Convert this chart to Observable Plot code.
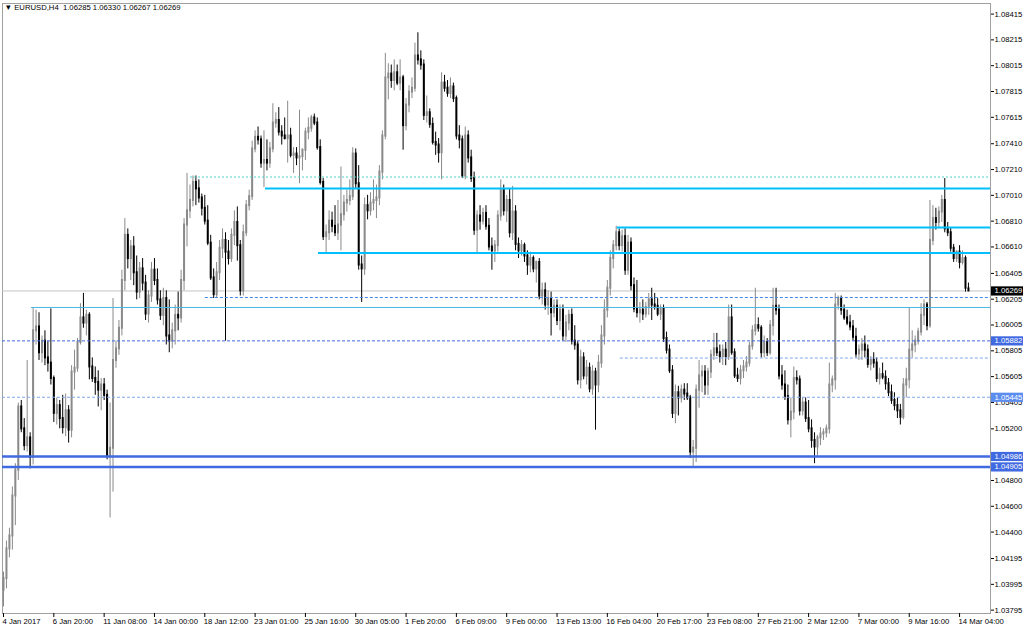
<!DOCTYPE html>
<html><head><meta charset="utf-8">
<script src="https://cdn.jsdelivr.net/npm/d3@7"></script>
<script src="https://cdn.jsdelivr.net/npm/@observablehq/plot@0.6"></script>
<style>html,body{margin:0;padding:0;background:#fff;}svg{display:block}</style>
</head><body><div id="chart"></div>
<script>
const symbolName = "EURUSD,H4";
const titleValues = [1.06285, 1.06330, 1.06267, 1.06269];

const openPrices = [
1.0395,1.0404,1.0427,1.0437,1.0468,1.0488,1.0537,1.0520,1.0507,1.0513,
1.0498,1.0596,1.0599,1.0579,1.0588,1.0575,1.0571,1.0559,1.0532,1.0538,
1.0528,1.0521,1.0534,1.0519,1.0564,1.0567,1.0587,1.0606,1.0602,1.0608,
1.0568,1.0559,1.0556,1.0550,1.0554,1.0546,1.0499,1.0505,1.0573,1.0582,
1.0598,1.0635,1.0670,1.0652,1.0661,1.0641,1.0626,1.0644,1.0633,1.0609,
1.0623,1.0643,1.0635,1.0620,1.0608,1.0621,1.0592,1.0588,1.0596,1.0608,
1.0606,1.0635,1.0678,1.0689,1.0697,1.0711,1.0706,1.0699,1.0691,1.0681,
1.0664,1.0637,1.0624,1.0641,1.0660,1.0666,1.0657,1.0652,1.0670,1.0680,
1.0662,1.0627,1.0672,1.0693,1.0700,1.0737,1.0746,1.0744,1.0726,1.0728,
1.0726,1.0737,1.0757,1.0759,1.0750,1.0747,1.0745,1.0747,1.0732,1.0733,
1.0730,1.0731,1.0736,1.0750,1.0753,1.0761,1.0757,1.0738,1.0711,1.0669,
1.0672,1.0681,1.0677,1.0672,1.0678,1.0686,1.0695,1.0697,1.0700,1.0733,
1.0710,1.0647,1.0644,1.0693,1.0689,1.0695,1.0697,1.0699,1.0719,1.0747,
1.0792,1.0795,1.0790,1.0796,1.0788,1.0792,1.0755,1.0771,1.0781,1.0784,
1.0809,1.0806,1.0802,1.0763,1.0765,1.0756,1.0742,1.0740,1.0734,1.0788,
1.0784,1.0780,1.0785,1.0776,1.0747,1.0744,1.0716,1.0747,1.0730,1.0714,
1.0674,1.0685,1.0681,1.0687,1.0677,1.0661,1.0658,1.0662,1.0685,1.0705,
1.0689,1.0697,1.0672,1.0688,1.0663,1.0658,1.0662,1.0654,1.0647,1.0652,
1.0644,1.0649,1.0623,1.0627,1.0616,1.0621,1.0610,1.0615,1.0604,1.0612,
1.0592,1.0602,1.0608,1.0588,1.0585,1.0558,1.0575,1.0561,1.0567,1.0551,
1.0564,1.0554,1.0571,1.0592,1.0612,1.0629,1.0652,1.0662,1.0672,1.0662,
1.0669,1.0643,1.0664,1.0631,1.0613,1.0610,1.0612,1.0609,1.0614,1.0620,
1.0616,1.0615,1.0609,1.0613,1.0590,1.0581,1.0565,1.0532,1.0548,1.0544,
1.0550,1.0547,1.0544,1.0502,1.0505,1.0550,1.0561,1.0564,1.0554,1.0564,
1.0577,1.0582,1.0579,1.0576,1.0581,1.0576,1.0606,1.0579,1.0561,1.0559,
1.0565,1.0568,1.0571,1.0584,1.0596,1.0600,1.0598,1.0579,1.0587,1.0579,
1.0600,1.0615,1.0612,1.0561,1.0554,1.0545,1.0527,1.0533,1.0559,1.0558,
1.0534,1.0540,1.0528,1.0520,1.0511,1.0506,1.0513,1.0516,1.0517,1.0520,
1.0554,1.0558,1.0616,1.0621,1.0612,1.0606,1.0602,1.0599,1.0591,1.0578,
1.0581,1.0585,1.0581,1.0570,1.0573,1.0571,1.0559,1.0562,1.0560,1.0555,
1.0548,1.0542,1.0538,1.0534,1.0529,1.0554,1.0558,1.0581,1.0585,1.0588,
1.0595,1.0608,1.0616,1.0600,1.0666,1.0683,1.0680,1.0688,1.0697,1.0675,
1.0672,1.0660,1.0652,1.0657,1.0649,1.0652,1.06285];

const highPrices = [
1.0409,1.0433,1.0443,1.0475,1.0493,1.0540,1.0542,1.0528,1.0573,1.0517,
1.0614,1.0612,1.0610,1.0592,1.0596,1.0588,1.0613,1.0561,1.0544,1.0542,
1.0546,1.0547,1.0538,1.0569,1.0581,1.0590,1.0617,1.0625,1.0612,1.0610,
1.0575,1.0568,1.0565,1.0559,1.0559,1.0550,1.0540,1.0621,1.0588,1.0604,
1.0643,1.0683,1.0675,1.0666,1.0669,1.0654,1.0649,1.0652,1.0639,1.0627,
1.0649,1.0652,1.0644,1.0627,1.0629,1.0627,1.0620,1.0602,1.0616,1.0626,
1.0643,1.0683,1.0718,1.0709,1.0716,1.0716,1.0713,1.0702,1.0701,1.0693,
1.0670,1.0644,1.0649,1.0666,1.0675,1.0672,1.0666,1.0675,1.0689,1.0692,
1.0666,1.0678,1.0697,1.0705,1.0743,1.0751,1.0754,1.0747,1.0751,1.0744,
1.0742,1.0772,1.0765,1.0769,1.0755,1.0761,1.0774,1.0753,1.0738,1.0738,
1.0767,1.0737,1.0753,1.0761,1.0763,1.0764,1.0761,1.0744,1.0714,1.0678,
1.0689,1.0688,1.0693,1.0697,1.0723,1.0701,1.0705,1.0713,1.0738,1.0737,
1.0724,1.0654,1.0699,1.0701,1.0703,1.0713,1.0709,1.0724,1.0751,1.0811,
1.0803,1.0802,1.0806,1.0802,1.0806,1.0794,1.0776,1.0786,1.0792,1.0819,
1.0827,1.0813,1.0806,1.0778,1.0768,1.0761,1.0750,1.0745,1.0796,1.0794,
1.0790,1.0792,1.0788,1.0778,1.0755,1.0747,1.0754,1.0751,1.0736,1.0719,
1.0689,1.0693,1.0691,1.0693,1.0683,1.0668,1.0666,1.0689,1.0713,1.0709,
1.0701,1.0706,1.0708,1.0693,1.0668,1.0666,1.0664,1.0658,1.0657,1.0654,
1.0650,1.0652,1.0633,1.0633,1.0627,1.0626,1.0620,1.0620,1.0616,1.0616,
1.0608,1.0612,1.0613,1.0600,1.0588,1.0581,1.0579,1.0573,1.0571,1.0569,
1.0567,1.0577,1.0600,1.0620,1.0635,1.0658,1.0666,1.0677,1.0675,1.0674,
1.0675,1.0670,1.0668,1.0637,1.0635,1.0618,1.0620,1.0618,1.0625,1.0629,
1.0625,1.0621,1.0616,1.0616,1.0595,1.0585,1.0569,1.0554,1.0553,1.0554,
1.0555,1.0555,1.0546,1.0511,1.0554,1.0573,1.0569,1.0569,1.0567,1.0581,
1.0594,1.0594,1.0585,1.0585,1.0587,1.0616,1.0616,1.0582,1.0567,1.0569,
1.0573,1.0576,1.0587,1.0600,1.0629,1.0606,1.0600,1.0592,1.0590,1.0604,
1.0629,1.0629,1.0616,1.0569,1.0565,1.0554,1.0544,1.0568,1.0565,1.0561,
1.0544,1.0544,1.0542,1.0527,1.0517,1.0515,1.0521,1.0520,1.0523,1.0571,
1.0561,1.0625,1.0623,1.0623,1.0616,1.0612,1.0608,1.0604,1.0598,1.0585,
1.0590,1.0592,1.0585,1.0576,1.0579,1.0575,1.0567,1.0571,1.0565,1.0559,
1.0554,1.0548,1.0544,1.0539,1.0559,1.0567,1.0614,1.0596,1.0592,1.0598,
1.0617,1.0620,1.0618,1.0697,1.0693,1.0691,1.0692,1.0701,1.0714,1.0680,
1.0676,1.0663,1.0658,1.0662,1.0658,1.0654,1.06330];

const lowPrices = [
1.0382,1.0396,1.0420,1.0426,1.0445,1.0480,1.0517,1.0503,1.0502,1.0489,
1.0492,1.0585,1.0573,1.0571,1.0569,1.0564,1.0554,1.0525,1.0523,1.0520,
1.0516,1.0514,1.0509,1.0513,1.0550,1.0564,1.0585,1.0598,1.0592,1.0558,
1.0556,1.0546,1.0537,1.0534,1.0542,1.0496,1.0451,1.0471,1.0567,1.0577,
1.0592,1.0627,1.0644,1.0635,1.0631,1.0620,1.0621,1.0627,1.0604,1.0602,
1.0618,1.0631,1.0616,1.0604,1.0600,1.0585,1.0579,1.0582,1.0585,1.0596,
1.0602,1.0627,1.0661,1.0683,1.0692,1.0693,1.0695,1.0685,1.0678,1.0662,
1.0635,1.0621,1.0621,1.0635,1.0652,1.0588,1.0647,1.0649,1.0662,1.0650,
1.0623,1.0623,1.0669,1.0689,1.0697,1.0734,1.0740,1.0722,1.0707,1.0720,
1.0722,1.0734,1.0753,1.0747,1.0740,1.0744,1.0726,1.0730,1.0718,1.0724,
1.0710,1.0720,1.0728,1.0744,1.0750,1.0755,1.0736,1.0709,1.0666,1.0656,
1.0666,1.0672,1.0669,1.0666,1.0658,1.0681,1.0688,1.0693,1.0697,1.0706,
1.0643,1.0618,1.0639,1.0682,1.0685,1.0689,1.0683,1.0693,1.0713,1.0744,
1.0775,1.0784,1.0782,1.0786,1.0782,1.0736,1.0751,1.0765,1.0776,1.0781,
1.0802,1.0798,1.0759,1.0757,1.0753,1.0740,1.0732,1.0726,1.0713,1.0781,
1.0777,1.0776,1.0773,1.0744,1.0737,1.0714,1.0713,1.0726,1.0711,1.0670,
1.0656,1.0674,1.0678,1.0674,1.0658,1.0643,1.0649,1.0657,1.0681,1.0685,
1.0680,1.0668,1.0666,1.0658,1.0652,1.0654,1.0649,1.0639,1.0641,1.0641,
1.0633,1.0620,1.0616,1.0612,1.0608,1.0592,1.0606,1.0600,1.0596,1.0588,
1.0587,1.0596,1.0585,1.0581,1.0554,1.0551,1.0558,1.0554,1.0548,1.0546,
1.0519,1.0548,1.0567,1.0585,1.0606,1.0623,1.0644,1.0658,1.0658,1.0657,
1.0639,1.0639,1.0627,1.0610,1.0606,1.0602,1.0604,1.0606,1.0608,1.0604,
1.0612,1.0607,1.0604,1.0587,1.0578,1.0563,1.0528,1.0524,1.0530,1.0540,
1.0542,1.0542,1.0497,1.0491,1.0494,1.0536,1.0548,1.0546,1.0546,1.0559,
1.0573,1.0576,1.0571,1.0569,1.0569,1.0573,1.0577,1.0559,1.0556,1.0554,
1.0559,1.0564,1.0568,1.0581,1.0592,1.0595,1.0575,1.0575,1.0576,1.0577,
1.0592,1.0608,1.0558,1.0550,1.0542,1.0523,1.0513,1.0527,1.0554,1.0530,
1.0530,1.0525,1.0517,1.0505,1.0493,1.0499,1.0507,1.0511,1.0513,1.0516,
1.0548,1.0550,1.0612,1.0608,1.0604,1.0600,1.0596,1.0588,1.0575,1.0573,
1.0573,1.0575,1.0567,1.0565,1.0567,1.0556,1.0554,1.0558,1.0550,1.0545,
1.0539,1.0534,1.0528,1.0523,1.0527,1.0544,1.0551,1.0575,1.0579,1.0585,
1.0592,1.0600,1.0596,1.0598,1.0662,1.0674,1.0675,1.0680,1.0672,1.0669,
1.0657,1.0649,1.0649,1.0644,1.0647,1.0626,1.06267];

const closePrices = [
1.0404,1.0427,1.0437,1.0468,1.0488,1.0537,1.0520,1.0507,1.0513,1.0498,
1.0596,1.0599,1.0579,1.0588,1.0575,1.0571,1.0559,1.0532,1.0538,1.0528,
1.0521,1.0534,1.0519,1.0564,1.0567,1.0587,1.0606,1.0602,1.0608,1.0568,
1.0559,1.0556,1.0550,1.0554,1.0546,1.0499,1.0505,1.0573,1.0582,1.0598,
1.0635,1.0670,1.0652,1.0661,1.0641,1.0626,1.0644,1.0633,1.0609,1.0623,
1.0643,1.0635,1.0620,1.0608,1.0621,1.0592,1.0588,1.0596,1.0608,1.0606,
1.0635,1.0678,1.0689,1.0697,1.0711,1.0706,1.0699,1.0691,1.0681,1.0664,
1.0637,1.0624,1.0641,1.0660,1.0666,1.0657,1.0652,1.0670,1.0680,1.0662,
1.0627,1.0672,1.0693,1.0700,1.0737,1.0746,1.0744,1.0726,1.0728,1.0726,
1.0737,1.0757,1.0759,1.0750,1.0747,1.0745,1.0747,1.0732,1.0733,1.0730,
1.0731,1.0736,1.0750,1.0753,1.0761,1.0757,1.0738,1.0711,1.0669,1.0672,
1.0681,1.0677,1.0672,1.0678,1.0686,1.0695,1.0697,1.0700,1.0733,1.0710,
1.0647,1.0644,1.0693,1.0689,1.0695,1.0697,1.0699,1.0719,1.0747,1.0792,
1.0795,1.0790,1.0796,1.0788,1.0792,1.0755,1.0771,1.0781,1.0784,1.0809,
1.0806,1.0802,1.0763,1.0765,1.0756,1.0742,1.0740,1.0734,1.0788,1.0784,
1.0780,1.0785,1.0776,1.0747,1.0744,1.0716,1.0747,1.0730,1.0714,1.0674,
1.0685,1.0681,1.0687,1.0677,1.0661,1.0658,1.0662,1.0685,1.0705,1.0689,
1.0697,1.0672,1.0688,1.0663,1.0658,1.0662,1.0654,1.0647,1.0652,1.0644,
1.0649,1.0623,1.0627,1.0616,1.0621,1.0610,1.0615,1.0604,1.0612,1.0592,
1.0602,1.0608,1.0588,1.0585,1.0558,1.0575,1.0561,1.0567,1.0551,1.0564,
1.0554,1.0571,1.0592,1.0612,1.0629,1.0652,1.0662,1.0672,1.0662,1.0669,
1.0643,1.0664,1.0631,1.0613,1.0610,1.0612,1.0609,1.0614,1.0620,1.0616,
1.0615,1.0609,1.0613,1.0590,1.0581,1.0565,1.0532,1.0548,1.0544,1.0550,
1.0547,1.0544,1.0502,1.0505,1.0550,1.0561,1.0564,1.0554,1.0564,1.0577,
1.0582,1.0579,1.0576,1.0581,1.0576,1.0606,1.0579,1.0561,1.0559,1.0565,
1.0568,1.0571,1.0584,1.0596,1.0600,1.0598,1.0579,1.0587,1.0579,1.0600,
1.0615,1.0612,1.0561,1.0554,1.0545,1.0527,1.0533,1.0559,1.0558,1.0534,
1.0540,1.0528,1.0520,1.0511,1.0506,1.0513,1.0516,1.0517,1.0520,1.0554,
1.0558,1.0616,1.0621,1.0612,1.0606,1.0602,1.0599,1.0591,1.0578,1.0581,
1.0585,1.0581,1.0570,1.0573,1.0571,1.0559,1.0562,1.0560,1.0555,1.0548,
1.0542,1.0538,1.0534,1.0529,1.0554,1.0558,1.0581,1.0585,1.0588,1.0595,
1.0608,1.0616,1.0600,1.0666,1.0683,1.0680,1.0688,1.0697,1.0675,1.0672,
1.0660,1.0652,1.0657,1.0649,1.0652,1.0629,1.06269];

// time axis: bar index of each label and its text
const timeTickBars = [0,17,34,51,68,85,102,119,136,153,170,187,204,221,238,255,272,289,306,323];
const timeLabels = ["4 Jan 2017","6 Jan 20:00","11 Jan 08:00","14 Jan 00:00","18 Jan 12:00","23 Jan 01:00",
  "25 Jan 16:00","30 Jan 05:00","1 Feb 20:00","6 Feb 09:00","9 Feb 00:00","13 Feb 13:00","16 Feb 04:00",
  "20 Feb 17:00","23 Feb 08:00","27 Feb 21:00","2 Mar 12:00","7 Mar 00:00","9 Mar 16:00","14 Mar 04:00"];

// price axis tick labels
const priceTicks = [1.08415,1.08215,1.08015,1.07815,1.07615,1.07410,1.07210,1.07010,1.06810,1.06610,
  1.06405,1.06205,1.06005,1.05805,1.05605,1.05405,1.05200,1.04800,1.04600,1.04400,1.04195,1.03995,1.03795];

// horizontal levels (price, first bar index)
const resistanceLevels = [1.07063, 1.06761, 1.06564];
const resistanceStart = [88.5, 207.4, 106.4];
const dottedTopLevel = [1.07152];
const dottedTopStart = [63.2];
const dashedMidLevel = [1.06218];
const dashedMidStart = [68.2];
const thinLevel = [1.06141];
const thinStart = [9.5];
const dashedDarkLevel = [1.05882];
const dashedLightLevels = [1.05749, 1.05445];
const dashedLightStart = [208.4, -0.34];
const supportLevels = [1.04986, 1.04905];
const bidPrice = [1.06269];
const darkLabelPrices = [1.05882, 1.04986, 1.04905];
const lightLabelPrices = [1.05445];

const xDomain = [-0.34, 333.45];
const yDomain = [1.03769, 1.08497];

const bars = closePrices.map((c, i) => ({i, o: openPrices[i], h: highPrices[i], l: lowPrices[i], c}));
const up = bars.filter(d => d.c >= d.o);
const down = bars.filter(d => d.c < d.o);

const labelBox = {draw(ctx) { ctx.moveTo(-16, -4.6); ctx.lineTo(16, -4.6); ctx.lineTo(16, 4.6); ctx.lineTo(-16, 4.6); ctx.closePath(); }};
const fmt = d => d.toFixed(5);
const xEnd = () => xDomain[1];

const chart = Plot.plot({
  width: 1024, height: 630,
  marginLeft: 2, marginRight: 34, marginTop: 3, marginBottom: 17,
  x: {domain: xDomain, axis: null},
  y: {domain: yDomain, axis: null},
  style: {background: "#fff", fontFamily: "Liberation Sans, Arial, sans-serif", fontSize: "7.7px", color: "#000", overflow: "visible"},
  marks: [
    Plot.frame({stroke: "#a0a0a0"}),
    // bid line
    Plot.ruleY(bidPrice, {y: d => d, stroke: "#c4c4c4", strokeWidth: 1}),
    // candles
    Plot.ruleX(up, {x: "i", y1: "l", y2: "h", stroke: "#8a8a8a", strokeWidth: 1}),
    Plot.ruleX(down, {x: "i", y1: "l", y2: "h", stroke: "#000", strokeWidth: 1}),
    Plot.ruleX(up, {x: "i", y1: "o", y2: "c", stroke: "#8a8a8a", strokeWidth: 2, strokeLinecap: "square"}),
    Plot.ruleX(down, {x: "i", y1: "o", y2: "c", stroke: "#000", strokeWidth: 2, strokeLinecap: "square"}),
    // levels
    Plot.ruleY(dottedTopLevel, {y: d => d, x1: (d, i) => dottedTopStart[i], x2: xEnd, stroke: "#48d1cc", strokeWidth: 1, strokeDasharray: "2,2"}),
    Plot.ruleY(dashedMidLevel, {y: d => d, x1: (d, i) => dashedMidStart[i], x2: xEnd, stroke: "#3f86e8", strokeWidth: 1, strokeDasharray: "3,2"}),
    Plot.ruleY(thinLevel, {y: d => d, x1: (d, i) => thinStart[i], x2: xEnd, stroke: "#45b5e3", strokeWidth: 1}),
    Plot.ruleY(dashedDarkLevel, {y: d => d, stroke: "#4169e1", strokeWidth: 1, strokeDasharray: "3,2"}),
    Plot.ruleY(dashedLightLevels, {y: d => d, x1: (d, i) => dashedLightStart[i], x2: xEnd, stroke: "#7fa8ef", strokeWidth: 1, strokeDasharray: "3,2"}),
    Plot.ruleY(resistanceLevels, {y: d => d, x1: (d, i) => resistanceStart[i], x2: xEnd, stroke: "#00bfff", strokeWidth: 2}),
    Plot.ruleY(supportLevels, {y: d => d, stroke: "#4169e1", strokeWidth: 2.6}),
    // axes
    Plot.axisY({anchor: "right", ticks: priceTicks, tickFormat: fmt, tickSize: 3, tickPadding: 1, label: null, line: true, stroke: "#000", fill: "#000"}),
    Plot.axisX({anchor: "bottom", ticks: timeTickBars, tickFormat: () => "", tickSize: 4, label: null, line: true, stroke: "#000"}),
    Plot.text(timeTickBars, {x: d => d, text: (d, i) => timeLabels[i], frameAnchor: "bottom", lineAnchor: "top", textAnchor: "start", dy: 5, dx: -1, fill: "#000"}),
    // price label boxes
    Plot.dot(bidPrice, {y: d => d, frameAnchor: "right", dx: 16.5, symbol: labelBox, fill: "#000", r: 5}),
    Plot.dot(darkLabelPrices, {y: d => d, frameAnchor: "right", dx: 16.5, symbol: labelBox, fill: "#4169e1", r: 5}),
    Plot.dot(lightLabelPrices, {y: d => d, frameAnchor: "right", dx: 16.5, symbol: labelBox, fill: "#5b8def", r: 5}),
    Plot.text(bidPrice.concat(darkLabelPrices, lightLabelPrices), {y: d => d, text: fmt, frameAnchor: "right", dx: 4, textAnchor: "start", fill: "#fff"}),
    // title
    Plot.text([`▼ ${symbolName}  ${titleValues.map(fmt).join(" ")}`], {frameAnchor: "top-left", dx: 2, dy: 1.5, lineAnchor: "top", textAnchor: "start", fill: "#000"})
  ]
});
document.getElementById("chart").appendChild(chart);
</script>
</body></html>
